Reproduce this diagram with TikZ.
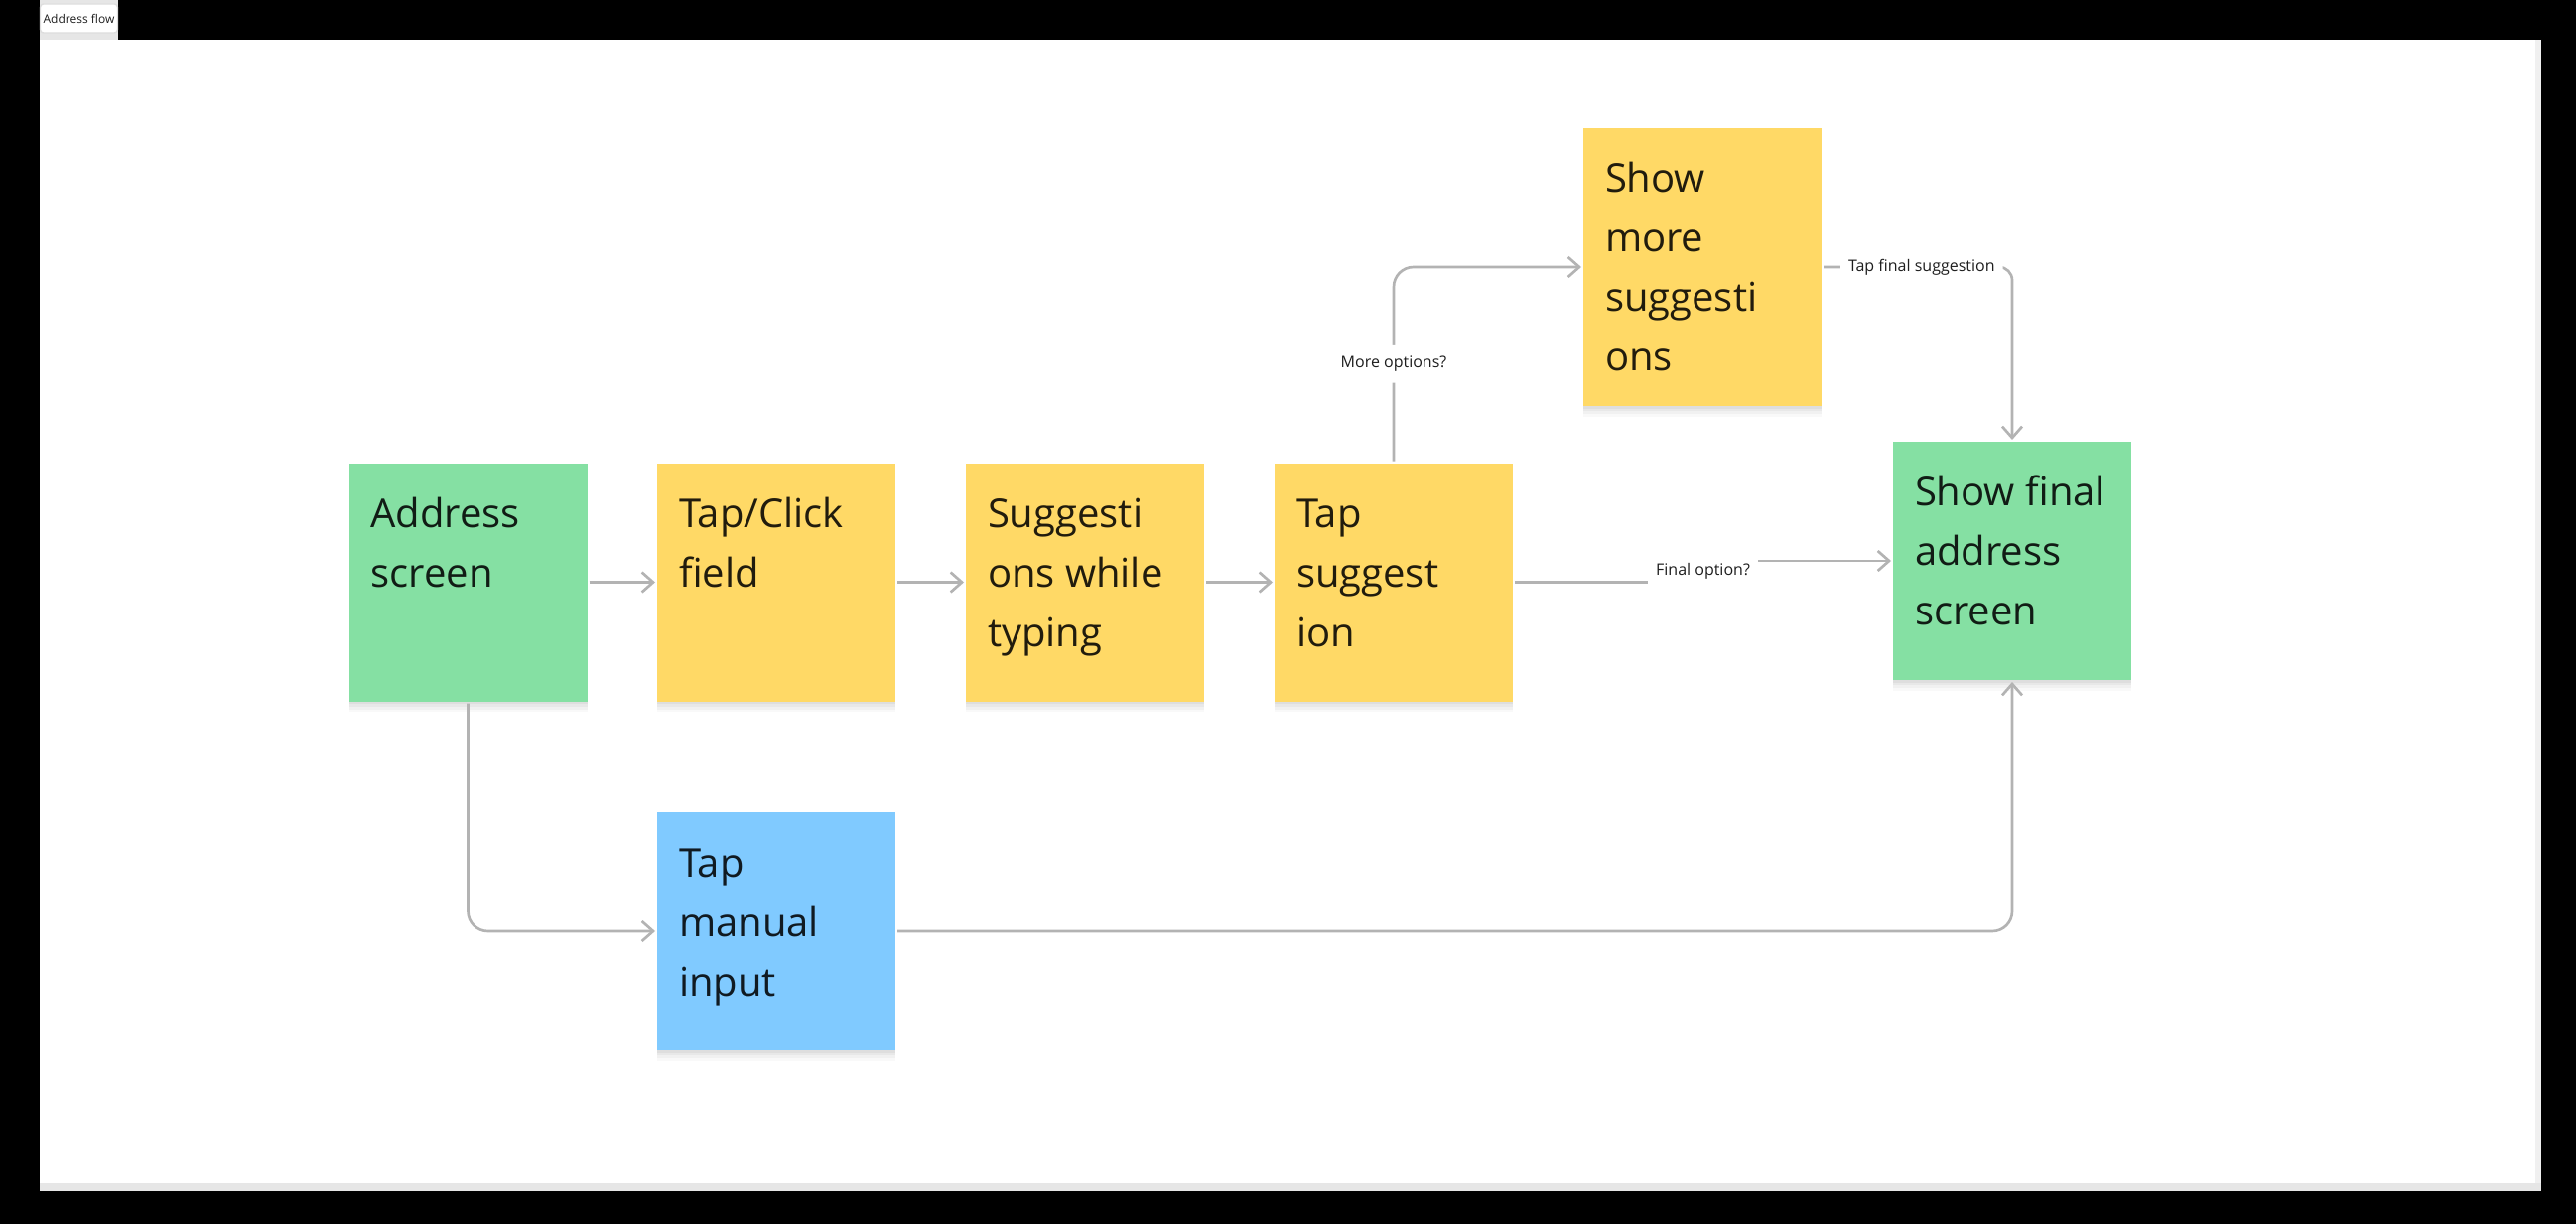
\documentclass[tikz,border=0pt]{standalone}
\usepackage{fontspec}
\setmainfont{Open Sans}
\usetikzlibrary{arrows.meta,shadows,calc}
\definecolor{stgreen}{HTML}{85E0A3}
\definecolor{styellow}{HTML}{FFD966}
\definecolor{stblue}{HTML}{80CAFF}
\definecolor{conngray}{HTML}{B3B3B3}
\definecolor{labtext}{HTML}{1E1E1E}
\definecolor{chromegray}{HTML}{E6E6E6}
\newcommand\stxt[2]{\parbox[c][#1][t]{72pt}{\fontsize{12pt}{18pt}\selectfont\raggedright\leftskip=6.6pt\relax\rule{0pt}{19.5pt}#2}}
\tikzset{
  sticky/.style={rectangle, inner sep=0pt, outer sep=0.6pt, minimum width=72pt,
    text=black, text opacity=0.87,
    general shadow={shadow xshift=0pt, shadow yshift=-3.2pt, opacity=0.025, fill=black},
    general shadow={shadow xshift=0pt, shadow yshift=-2.4pt, opacity=0.03, fill=black},
    general shadow={shadow xshift=0pt, shadow yshift=-1.6pt, opacity=0.035, fill=black},
    general shadow={shadow xshift=0pt, shadow yshift=-0.8pt, opacity=0.04, fill=black}},
  conn/.style={draw=conngray, line width=0.8pt,
    -{Straight Barb[length=3.4pt,width=6pt,line width=0.8pt]}, rounded corners=6pt},
  lbl/.style={fill=white, inner xsep=2.4pt, inner ysep=3.3pt,
    font=\fontsize{4.8pt}{5.8pt}\selectfont, text=labtext},
}
\begin{document}
\begin{tikzpicture}[x=0.3pt,y=-0.3pt]
\useasboundingbox (0,0) rectangle (2595,1233);
% canvas chrome
\fill[black] (0,0) rectangle (2595,1233);
\fill[chromegray] (40,0) rectangle (119,40);
\fill[white] (40,40) rectangle (2554,1192);
\fill[chromegray!60] (2554,40) rectangle (2560,1200);
\fill[chromegray] (40,1192) rectangle (2560,1200);
\node[draw=chromegray!80!black!20!chromegray, fill=white, rounded corners=1pt,
  minimum width=23.4pt, minimum height=8.7pt, inner sep=0pt,
  font=\fontsize{3.6pt}{4.4pt}\selectfont, text=labtext] (tab) at (79.5,18.5) {Address flow};
% stickies
\node[sticky, fill=stgreen, minimum height=72pt] (addr) at (471.5,586.5) {\stxt{72pt}{Address\\screen}};
\node[sticky, fill=styellow, minimum height=72pt] (tap) at (782,586.5) {\stxt{72pt}{Tap/Click\\field}};
\node[sticky, fill=styellow, minimum height=72pt] (sugg) at (1093,586.5) {\stxt{72pt}{Suggesti\\ons while\\typing}};
\node[sticky, fill=styellow, minimum height=72pt] (tsug) at (1404,586.5) {\stxt{72pt}{Tap\\suggest\\ion}};
\node[sticky, fill=styellow, minimum height=84pt] (more) at (1715,269) {\stxt{84pt}{Show\\more\\suggesti\\ons}};
\node[sticky, fill=stgreen, minimum height=72pt] (final) at (2027,565) {\stxt{72pt}{Show final\\address\\screen}};
\node[sticky, fill=stblue, minimum height=72pt] (manual) at (782,938) {\stxt{72pt}{Tap\\manual\\input}};
% connectors
\draw[conn] (addr) -- (tap);
\draw[conn] (tap) -- (sugg);
\draw[conn] (sugg) -- (tsug);
\coordinate (fmid) at ($(tsug.east)!0.5!(final.west)$);
\draw[conn, rounded corners=0pt] (tsug.east) -| (fmid) |- (final.west);
\node[lbl] (lfinal) at (fmid) {Final option?};
\draw[conn] (tsug.north) |- node[lbl, pos=0.25] (lmore) {More options?} (more.west);
\draw[conn, rounded corners=4pt] (more.east) -| node[lbl, pos=0.26] (ltap) {Tap final suggestion} (final.north);
\draw[conn] (addr.south) |- (manual.west);
\draw[conn] (manual.east) -| (final.south);
\end{tikzpicture}
\end{document}
